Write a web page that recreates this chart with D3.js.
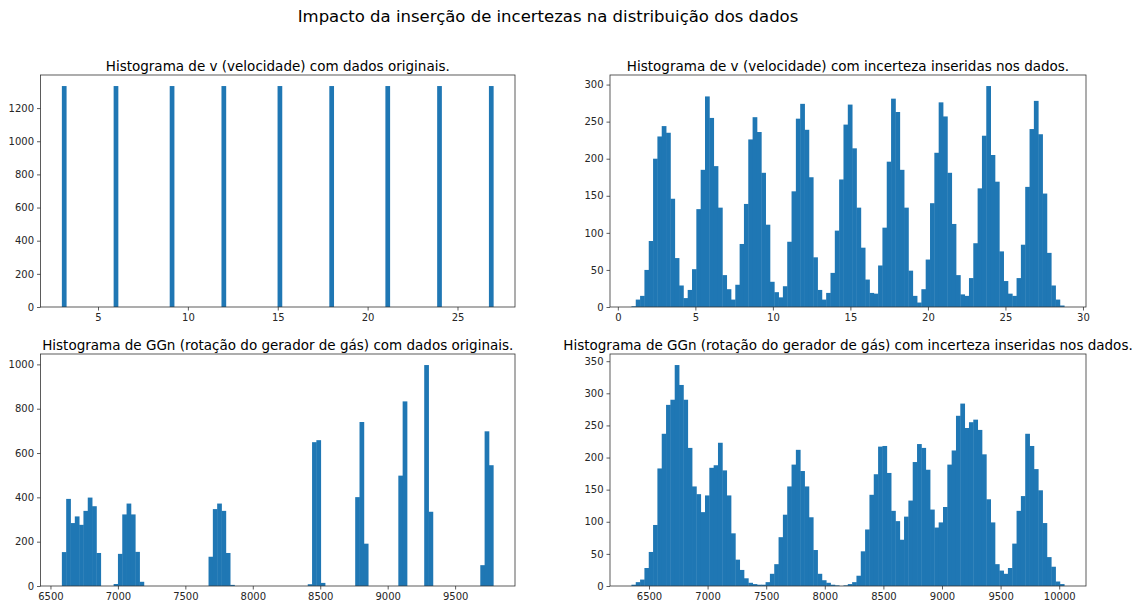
<!DOCTYPE html>
<html>
<head>
<meta charset="utf-8">
<script src="https://cdn.jsdelivr.net/npm/d3@7"></script>
<style>
  body { margin: 0; background: #fff; }
  text { font-family: "DejaVu Sans", sans-serif; }
</style>
</head>
<body>
<svg id="chart" width="1137" height="605"></svg>
<script>
// ---------- data ----------
const figureTitle = "Impacto da inserção de incertezas na distribuição dos dados";

// velocity, original samples: every speed level appears the same number of times
const vOriginalTitle = "Histograma de v (velocidade) com dados originais.";
const vOriginalValues = [3, 6, 9, 12, 15, 18, 21, 24, 27];
const vOriginalCounts = [1333, 1333, 1333, 1333, 1333, 1333, 1333, 1333, 1333];
const vOriginalRange = [3, 27];
const vOriginalXTicks = [5, 10, 15, 20, 25];
const vOriginalYTicks = [0, 200, 400, 600, 800, 1000, 1200];

// velocity with uncertainty added (100 equal bins over the range)
const vNoisyTitle = "Histograma de v (velocidade) com incerteza inseridas nos dados.";
const vNoisyRange = [0.89, 28.8];
const vNoisyCounts = [
  1, 10, 15, 50, 89, 200, 230, 244, 235, 146, 66,
  29, 12, 23, 51, 132, 185, 284, 255, 190, 134,
  43, 24, 10, 30, 85, 139, 226, 256, 236, 181,
  111, 34, 20, 13, 28, 88, 156, 254, 274, 239,
  175, 67, 23, 10, 19, 46, 103, 172, 246, 273,
  214, 134, 80, 37, 19, 18, 56, 107, 196, 281,
  263, 185, 134, 49, 15, 6, 24, 64, 140, 208,
  276, 257, 181, 112, 43, 17, 15, 39, 86, 160,
  231, 298, 205, 169, 75, 35, 18, 15, 39, 84,
  162, 240, 278, 233, 153, 73, 29, 10, 2
];
const vNoisyXTicks = [0, 5, 10, 15, 20, 25, 30];
const vNoisyYTicks = [0, 50, 100, 150, 200, 250, 300];

// gas generator rotation, original samples (100 equal bins)
const ggnOriginalTitle = "Histograma de GGn (rotação do gerador de gás) com dados originais.";
const ggnOriginalRange = [6586, 9784];
const ggnOriginalCounts = [
  153, 393, 284, 314, 276, 339, 399, 360, 149, 0,
  0, 0, 9, 145, 323, 372, 323, 154, 19, 0,
  0, 0, 0, 0, 0, 0, 0, 0, 0, 0,
  0, 0, 0, 0, 132, 347, 372, 339, 149, 5,
  0, 0, 0, 0, 0, 0, 0, 0, 0, 0,
  0, 0, 0, 0, 0, 0, 0, 8, 649, 658,
  14, 0, 0, 0, 0, 0, 0, 0, 401, 740,
  191, 0, 0, 0, 0, 0, 0, 0, 498, 833,
  0, 0, 0, 0, 997, 335, 0, 0, 0, 0,
  0, 0, 0, 0, 0, 0, 0, 94, 698, 545
];
const ggnOriginalXTicks = [6500, 7000, 7500, 8000, 8500, 9000, 9500];
const ggnOriginalYTicks = [0, 200, 400, 600, 800, 1000];

// gas generator rotation with uncertainty added (100 equal bins)
const ggnNoisyTitle = "Histograma de GGn (rotação do gerador de gás) com incerteza inseridas nos dados.";
const ggnNoisyRange = [6352, 10044];
const ggnNoisyCounts = [
  2, 6, 10, 28, 53, 95, 183, 237, 282, 290, 344,
  313, 290, 215, 155, 143, 115, 141, 184, 188, 223,
  180, 141, 82, 41, 25, 12, 5, 3, 2, 2,
  6, 19, 34, 76, 111, 155, 189, 212, 179, 155,
  107, 56, 19, 9, 5, 2, 1, 0, 1, 3,
  6, 16, 54, 88, 142, 174, 217, 218, 176, 117,
  101, 72, 108, 133, 193, 221, 215, 181, 119, 91,
  99, 123, 189, 211, 265, 284, 246, 255, 259, 243,
  205, 135, 99, 34, 24, 19, 28, 66, 117, 140,
  237, 218, 182, 149, 98, 45, 30, 7, 3
];
const ggnNoisyXTicks = [6500, 7000, 7500, 8000, 8500, 9000, 9500, 10000];
const ggnNoisyYTicks = [0, 50, 100, 150, 200, 250, 300, 350];

// ---------- helpers ----------
const BAR_COLOR = "#1f77b4";
const N_BINS = 100;

// spread discrete samples into 100 equal bins over [lo, hi]
function binSamples(values, counts, range) {
  const [lo, hi] = range;
  const w = (hi - lo) / N_BINS;
  const out = new Array(N_BINS).fill(0);
  values.forEach((v, i) => {
    let k = Math.floor((v - lo) / w + 1e-9);
    k = Math.max(0, Math.min(N_BINS - 1, k));
    out[k] += counts[i];
  });
  return out;
}

const svg = d3.select("#chart");

svg.append("text")
  .attr("x", 548).attr("y", 22)
  .attr("text-anchor", "middle")
  .attr("font-size", 16.5)
  .attr("fill", "#000")
  .text(figureTitle);

function drawHistogram(cfg) {
  const { box, title, counts, range, xTicks, yTicks } = cfg;
  const [lo, hi] = range;
  const span = hi - lo;
  const w = span / counts.length;
  const bins = counts.map((c, k) => ({ x0: lo + k * w, x1: lo + (k + 1) * w, count: c }));

  const x = d3.scaleLinear()
    .domain([lo - 0.05 * span, hi + 0.05 * span])
    .range([box.left, box.right]);
  const y = d3.scaleLinear()
    .domain([0, d3.max(counts) * 1.05])
    .range([box.bottom, box.top]);

  const g = svg.append("g");

  // neighbouring bars overlap slightly so no hairline gaps show between them
  g.selectAll("rect.bar")
    .data(bins.filter(b => b.count > 0))
    .join("rect")
    .attr("class", "bar")
    .attr("x", d => x(d.x0) - 0.2)
    .attr("width", d => x(d.x1) - x(d.x0) + 0.4)
    .attr("y", d => y(d.count))
    .attr("height", d => y(0) - y(d.count))
    .attr("fill", BAR_COLOR);

  const xAxis = g.append("g")
    .attr("transform", `translate(0,${box.bottom})`)
    .call(d3.axisBottom(x).tickValues(xTicks).tickSize(3.5).tickPadding(3).tickFormat(d3.format("d")));
  const yAxis = g.append("g")
    .attr("transform", `translate(${box.left},0)`)
    .call(d3.axisLeft(y).tickValues(yTicks).tickSize(3.5).tickPadding(3).tickFormat(d3.format("d")));

  [xAxis, yAxis].forEach(a => {
    a.select(".domain").remove();
    a.selectAll(".tick line").attr("stroke", "#333").attr("stroke-width", 0.8);
    a.selectAll(".tick text")
      .attr("font-size", 10)
      .attr("fill", "#262626")
      .attr("font-family", "DejaVu Sans, sans-serif");
  });

  g.append("rect")
    .attr("x", box.left).attr("y", box.top)
    .attr("width", box.right - box.left)
    .attr("height", box.bottom - box.top)
    .attr("fill", "none")
    .attr("stroke", "#333")
    .attr("stroke-width", 0.8);

  g.append("text")
    .attr("x", (box.left + box.right) / 2)
    .attr("y", box.top - 4.5)
    .attr("text-anchor", "middle")
    .attr("font-size", 13.5)
    .attr("fill", "#000")
    .text(title);
}

const leftCol = { left: 40.5, right: 515 };
const rightCol = { left: 610, right: 1086 };
const topRow = { top: 75, bottom: 307 };
const bottomRow = { top: 354, bottom: 586 };

drawHistogram({
  box: { ...leftCol, ...topRow },
  title: vOriginalTitle,
  counts: binSamples(vOriginalValues, vOriginalCounts, vOriginalRange),
  range: vOriginalRange,
  xTicks: vOriginalXTicks, yTicks: vOriginalYTicks
});
drawHistogram({
  box: { ...rightCol, ...topRow },
  title: vNoisyTitle,
  counts: vNoisyCounts,
  range: vNoisyRange,
  xTicks: vNoisyXTicks, yTicks: vNoisyYTicks
});
drawHistogram({
  box: { ...leftCol, ...bottomRow },
  title: ggnOriginalTitle,
  counts: ggnOriginalCounts,
  range: ggnOriginalRange,
  xTicks: ggnOriginalXTicks, yTicks: ggnOriginalYTicks
});
drawHistogram({
  box: { ...rightCol, ...bottomRow },
  title: ggnNoisyTitle,
  counts: ggnNoisyCounts,
  range: ggnNoisyRange,
  xTicks: ggnNoisyXTicks, yTicks: ggnNoisyYTicks
});
</script>
</body>
</html>
